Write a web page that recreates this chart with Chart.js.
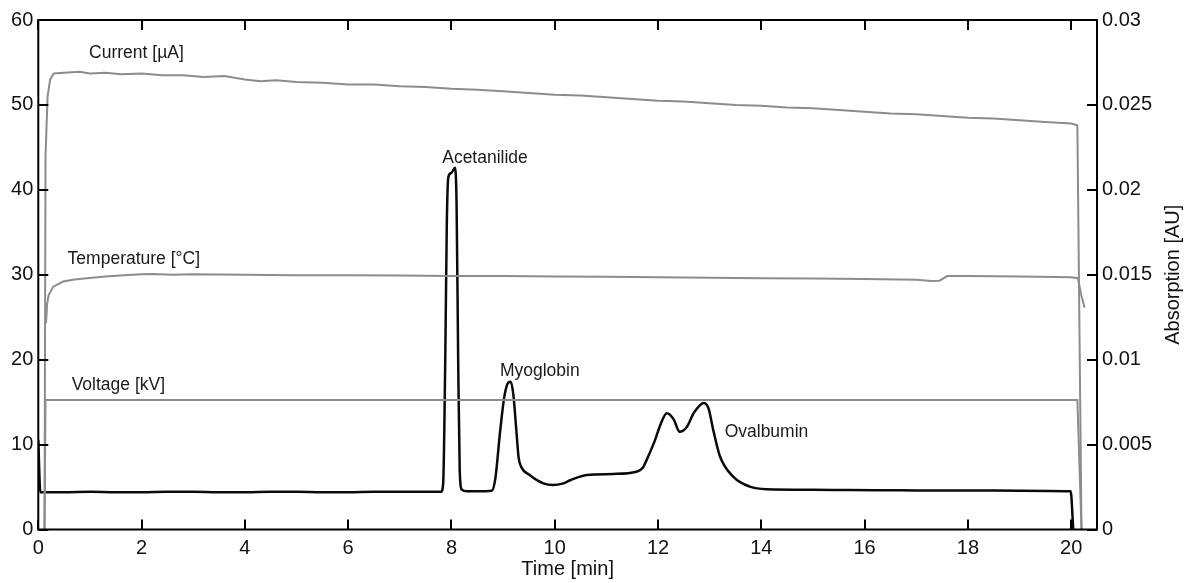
<!DOCTYPE html>
<html>
<head>
<meta charset="utf-8">
<script src="https://cdn.jsdelivr.net/npm/chart.js@4/dist/chart.umd.min.js"></script>
<style>
html,body{margin:0;padding:0;background:#fff;}
canvas{display:block;}
</style>
</head>
<body>
<canvas id="c" width="1186" height="583"></canvas>
<script>
// ---------- data ----------
const xTicks = [0, 2, 4, 6, 8, 10, 12, 14, 16, 18, 20];
const leftTicks = [0, 10, 20, 30, 40, 50, 60];
const rightTicks = [0, 0.005, 0.01, 0.015, 0.02, 0.025, 0.03];

// Absorption [AU] (right axis)
const absTime = [0, 0.04, 0.5, 1, 1.5, 2, 2.5, 3, 3.5, 4, 4.5, 5, 5.5, 6, 6.5, 7, 7.5, 7.8,
  7.84, 7.88, 7.91, 7.94, 8.0, 8.07, 8.1, 8.13, 8.16, 8.2, 8.3, 8.5, 8.78,
  8.85, 8.94, 9.02, 9.1, 9.15, 9.2, 9.26, 9.3, 9.35, 9.52, 9.78, 9.97, 10.15, 10.3,
  10.62, 11.13, 11.58, 11.71, 11.78, 11.94, 12.05, 12.17, 12.3, 12.42, 12.55, 12.7,
  12.89, 12.98, 13.07, 13.2, 13.46, 13.78, 14.1, 15, 15.7, 16.5, 17, 18, 19, 19.99, 20.04];
const absValue = [0.00525, 0.0022, 0.0022, 0.00222, 0.0022, 0.0022, 0.00222, 0.00222, 0.0022, 0.0022, 0.00222, 0.00222, 0.0022, 0.0022, 0.00222, 0.00222, 0.00222, 0.00222,
  0.00275, 0.01, 0.018, 0.02075, 0.021, 0.0213, 0.019, 0.01, 0.0035, 0.00235, 0.00225, 0.00225, 0.00228,
  0.003, 0.0057, 0.00775, 0.00865, 0.0087, 0.0079, 0.0057, 0.00425, 0.0037, 0.0032, 0.00272, 0.00262, 0.0027, 0.0029,
  0.00321, 0.00327, 0.0034, 0.00365, 0.0041, 0.00525, 0.0062, 0.00685, 0.0065, 0.00575, 0.006, 0.0069,
  0.00745, 0.0071, 0.00585, 0.0043, 0.0031, 0.00252, 0.00237, 0.00234, 0.00232, 0.00231, 0.0023, 0.0023, 0.00228, 0.00225, 0];

// Current [µA] (left axis)
const currentTime = [0.12, 0.14, 0.18, 0.23, 0.3, 0.5, 0.8, 1.0, 1.3, 1.6, 2.0, 2.4, 2.8, 3.2, 3.6, 4.0, 4.3, 4.6,
  5.0, 5.5, 6.0, 6.5, 7.0, 7.5, 8.0, 8.5, 9.0, 9.5, 10.0, 10.5, 11.0, 11.5, 12.0, 12.5, 13.0, 13.5,
  14.0, 14.5, 15.0, 15.5, 16.0, 16.5, 17.0, 17.5, 18.0, 18.5, 19.0, 19.5, 20.0, 20.12, 20.2];
const currentValue = [0, 44, 51, 53.0, 53.7, 53.8, 53.9, 53.7, 53.8, 53.6, 53.7, 53.5, 53.5, 53.3, 53.4, 53.0, 52.8, 52.9,
  52.7, 52.6, 52.4, 52.4, 52.2, 52.1, 51.9, 51.8, 51.6, 51.4, 51.2, 51.1, 50.9, 50.7, 50.5, 50.4, 50.2, 50.0,
  49.9, 49.7, 49.6, 49.4, 49.2, 49.0, 48.9, 48.7, 48.5, 48.4, 48.2, 48.0, 47.8, 47.6, 0];

// Temperature [°C] (left axis)
const tempTime = [0.15, 0.17, 0.2, 0.29, 0.48, 0.7, 0.94, 1.3, 1.58, 2.0, 2.22, 2.6, 3, 4, 5, 6, 7, 8, 9, 10,
  11, 12, 13, 14, 15, 16, 17, 17.3, 17.45, 17.6, 18, 19, 20, 20.13, 20.2, 20.26];
const tempValue = [24.3, 26.5, 27.6, 28.6, 29.2, 29.45, 29.6, 29.8, 29.9, 30.05, 30.1, 30.0, 30.05, 30.0, 29.95, 29.95, 29.9, 29.85, 29.85, 29.8,
  29.75, 29.7, 29.65, 29.6, 29.55, 29.5, 29.4, 29.25, 29.3, 29.85, 29.85, 29.8, 29.7, 29.6, 27.5, 26.1];

// Voltage [kV] (left axis)
const voltTime = [0.12, 0.14, 20.12, 20.2];
const voltValue = [0, 15.25, 15.25, 0];

// text labels (data coordinates)
const labelText = ['Current [µA]', 'Acetanilide', 'Temperature [°C]', 'Myoglobin', 'Voltage [kV]', 'Ovalbumin'];
const labelTime = [1.9, 8.65, 1.85, 9.71, 1.55, 14.1];
const labelValue = [56.1, 43.7, 31.8, 18.6, 17.0, 11.5];

// ---------- chart ----------
const FONT = "'Liberation Sans', Arial, sans-serif";
const pts = (xs, ys) => xs.map((x, i) => ({x: x, y: ys[i]}));

const framePlugin = {
  id: 'frame',
  afterDraw(chart) {
    const ctx = chart.ctx;
    const a = chart.chartArea;
    const xs = chart.scales.x, yl = chart.scales.y, yr = chart.scales.y2;
    ctx.save();
    ctx.strokeStyle = '#000';
    ctx.lineWidth = 2;
    ctx.strokeRect(a.left, a.top, a.right - a.left, a.bottom - a.top);
    const TL = 10;
    ctx.beginPath();
    xTicks.forEach(v => {
      const p = Math.round(xs.getPixelForValue(v));
      ctx.moveTo(p, a.bottom); ctx.lineTo(p, a.bottom - TL);
      ctx.moveTo(p, a.top); ctx.lineTo(p, a.top + TL);
    });
    leftTicks.forEach(v => {
      const p = Math.round(yl.getPixelForValue(v));
      ctx.moveTo(a.left, p); ctx.lineTo(a.left + TL, p);
    });
    rightTicks.forEach(v => {
      const p = Math.round(yr.getPixelForValue(v));
      ctx.moveTo(a.right, p); ctx.lineTo(a.right - TL, p);
    });
    ctx.stroke();

    // series labels
    ctx.fillStyle = '#1a1a1a';
    ctx.font = '17.5px ' + FONT;
    ctx.textAlign = 'center';
    ctx.textBaseline = 'middle';
    labelText.forEach((t, i) => {
      ctx.fillText(t, xs.getPixelForValue(labelTime[i]), yl.getPixelForValue(labelValue[i]));
    });

    // axis titles
    ctx.font = '20px ' + FONT;
    ctx.fillStyle = '#111';
    ctx.fillText('Time [min]', (a.left + a.right) / 2, 569);
    ctx.translate(1173, (a.top + a.bottom) / 2);
    ctx.rotate(-Math.PI / 2);
    ctx.fillText('Absorption [AU]', 0, 0);
    ctx.restore();
  }
};

const tickFont = {family: FONT, size: 20};

new Chart(document.getElementById('c'), {
  type: 'line',
  data: {
    datasets: [
      {label: 'Voltage [kV]', data: pts(voltTime, voltValue), yAxisID: 'y', borderColor: '#8c8c8c', borderWidth: 2, pointRadius: 0, tension: 0},
      {label: 'Temperature [°C]', data: pts(tempTime, tempValue), yAxisID: 'y', borderColor: '#8c8c8c', borderWidth: 2, pointRadius: 0, tension: 0},
      {label: 'Current [µA]', data: pts(currentTime, currentValue), yAxisID: 'y', borderColor: '#8c8c8c', borderWidth: 2, pointRadius: 0, tension: 0},
      {label: 'Absorption [AU]', data: pts(absTime, absValue), yAxisID: 'y2', borderColor: '#0a0a0a', borderWidth: 2.5, pointRadius: 0, cubicInterpolationMode: 'monotone'}
    ]
  },
  options: {
    responsive: false,
    animation: false,
    layout: {padding: {top: 20, left: 0, right: 0, bottom: 0}},
    plugins: {legend: {display: false}, tooltip: {enabled: false}},
    scales: {
      x: {
        type: 'linear', position: 'bottom', min: 0, max: 20.5,
        grid: {display: false, drawTicks: false},
        border: {display: false},
        ticks: {font: tickFont, color: '#111', padding: 7, maxRotation: 0, autoSkip: false},
        afterBuildTicks: s => { s.ticks = xTicks.map(v => ({value: v})); },
        afterFit: s => { s.height = 53.5; }
      },
      y: {
        type: 'linear', position: 'left', min: 0, max: 60,
        grid: {display: false, drawTicks: false},
        border: {display: false},
        ticks: {font: tickFont, color: '#111', padding: 5},
        afterBuildTicks: s => { s.ticks = leftTicks.map(v => ({value: v})); },
        afterFit: s => { s.width = 38.3; }
      },
      y2: {
        type: 'linear', position: 'right', min: 0, max: 0.03,
        grid: {display: false, drawTicks: false},
        border: {display: false},
        ticks: {font: tickFont, color: '#111', padding: 5,
          callback: v => String(Number(v.toFixed(3)))},
        afterBuildTicks: s => { s.ticks = rightTicks.map(v => ({value: v})); },
        afterFit: s => { s.width = 89; }
      }
    }
  },
  plugins: [framePlugin]
});
</script>
</body>
</html>
